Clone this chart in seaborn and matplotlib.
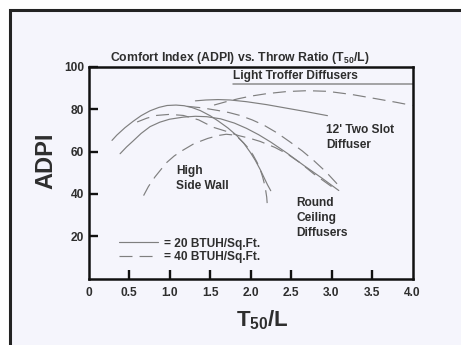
import matplotlib
matplotlib.use("Agg")
import matplotlib.pyplot as plt
from matplotlib.patches import Rectangle
from matplotlib.lines import Line2D
import seaborn as sns
import pandas as pd

# ADPI curves read as (T50/L, ADPI) points, per diffuser type and room load
troffer_20_x = [1.32, 1.45, 1.6, 1.75, 1.95, 2.2, 2.45, 2.7, 2.95]
troffer_20_y = [84.0, 84.4, 84.6, 84.4, 83.6, 82.2, 80.5, 78.8, 77.0]
troffer_40_x = [1.55, 1.7, 1.85, 2.0, 2.2, 2.45, 2.7, 2.95, 3.25, 3.55, 3.8, 4.0]
troffer_40_y = [82.0, 83.6, 85.0, 86.2, 87.4, 88.4, 88.8, 88.5, 87.0, 85.0, 83.3, 81.8]

sidewall_20_x = [0.29, 0.35, 0.45, 0.55, 0.65, 0.76, 0.87, 0.97, 1.08, 1.18, 1.28, 1.38,
                 1.5, 1.6, 1.72, 1.83, 1.92, 2.0, 2.06, 2.12, 2.17, 2.21, 2.25]
sidewall_20_y = [65.3, 67.8, 71.3, 74.3, 77.0, 79.3, 80.9, 81.8, 82.0, 81.7, 80.8, 79.4,
                 77.0, 74.5, 71.2, 67.6, 63.8, 59.5, 55.8, 51.5, 47.5, 44.3, 41.5]
sidewall_40_x = [0.68, 0.74, 0.82, 0.9, 0.97, 1.06, 1.15, 1.3, 1.47, 1.6, 1.7, 1.78,
                 1.85, 1.91, 1.97, 2.03, 2.08, 2.12, 2.15, 2.18, 2.2, 2.21]
sidewall_40_y = [39.2, 43.5, 48.0, 51.8, 55.0, 58.0, 60.3, 63.7, 66.2, 67.6, 68.2, 67.9,
                 66.5, 64.3, 61.8, 58.5, 55.0, 51.5, 48.0, 43.5, 38.5, 33.6]

ceiling_20_x = [0.39, 0.47, 0.55, 0.65, 0.76, 0.88, 1.0, 1.17, 1.32, 1.46, 1.63, 1.8,
                1.95, 2.1, 2.25, 2.45, 2.66, 2.88, 3.09]
ceiling_20_y = [59.0, 62.2, 65.0, 68.6, 71.8, 73.9, 75.3, 76.3, 76.7, 76.5, 75.5, 73.5,
                71.0, 68.0, 64.5, 59.3, 53.4, 47.5, 41.6]
ceiling_40_x = [0.6, 0.72, 0.84, 1.0, 1.17, 1.36, 1.54, 1.7, 1.85, 2.0, 2.12, 2.3,
                2.45, 2.62, 2.78, 2.93, 3.07]
ceiling_40_y = [74.0, 75.8, 77.1, 77.6, 77.1, 75.0, 71.5, 69.6, 67.6, 66.2, 64.8, 62.0,
                59.0, 54.5, 49.5, 45.4, 41.6]

slot_40_x = [1.22, 1.4, 1.59, 1.73, 1.87, 2.02, 2.17, 2.33, 2.49, 2.64, 2.78, 2.93, 3.07]
slot_40_y = [81.4, 80.7, 79.5, 78.5, 77.1, 75.0, 72.4, 68.8, 64.5, 60.3, 55.8, 50.5, 44.7]

x_ticks = [0.5, 1.0, 1.5, 2.0, 2.5, 3.0, 3.5]
x_tick_labels = ["0", "0.5", "1.0", "1.5", "2.0", "2.5", "3.0", "3.5", "4.0"]
y_ticks = [20, 40, 60, 80, 100]
legend_labels = ["= 20 BTUH/Sq.Ft.", "= 40 BTUH/Sq.Ft."]

curves = [
    ("troffer_20", "20", troffer_20_x, troffer_20_y),
    ("troffer_40", "40", troffer_40_x, troffer_40_y),
    ("sidewall_20", "20", sidewall_20_x, sidewall_20_y),
    ("sidewall_40", "40", sidewall_40_x, sidewall_40_y),
    ("ceiling_20", "20", ceiling_20_x, ceiling_20_y),
    ("ceiling_40", "40", ceiling_40_x, ceiling_40_y),
    ("slot_40", "40", slot_40_x, slot_40_y),
]
rows = []
for name, load, xs, ys in curves:
    for xv, yv in zip(xs, ys):
        rows.append({"curve": name, "load": load, "ratio": xv, "adpi": yv})
df = pd.DataFrame(rows)

BG = "#f5f5fc"
INK = "#2e2e2e"
CURVE = "#7f7f7f"
LW = 0.85
DASH = (11.0, 6.0)

sns.set_theme(style="ticks")
plt.rcParams["font.family"] = ["Liberation Sans", "DejaVu Sans"]
plt.rcParams["mathtext.fontset"] = "custom"
plt.rcParams["mathtext.rm"] = "Liberation Sans:bold"
plt.rcParams["mathtext.default"] = "rm"

fig = plt.figure(figsize=(4.61, 3.45), dpi=100, facecolor="white")
W, H = 461, 345

# outer panel with its dark border (runs off the right and bottom edges)
panel = Rectangle((9.5 / W, -0.2), 1.2, 1.2 - 9.5 / H, transform=fig.transFigure,
                  facecolor=BG, edgecolor="#232323", linewidth=2.2, zorder=-10)
fig.patches.append(panel)

ax = fig.add_axes([88.5 / W, 1 - 278.5 / H, 324 / W, 211.5 / H])
ax.set_zorder(5)
ax.set_facecolor(BG)

sns.lineplot(data=df, x="ratio", y="adpi", units="curve", estimator=None, sort=False,
             style="load", dashes={"20": "", "40": DASH}, color=CURVE, linewidth=LW,
             legend=False, ax=ax)

ax.set_xlim(0, 4.0)
ax.set_ylim(0, 100)
ax.set_xticks([0] + x_ticks + [4.0])
ax.set_xticklabels(x_tick_labels)
ax.set_yticks(y_ticks)
ax.tick_params(axis="both", which="major", direction="in", length=6.5, width=1.7,
               color="#111111", labelsize=8.6, labelcolor=INK,
               bottom=True, left=True, top=False, right=False)
ax.tick_params(axis="x", pad=6)
ax.tick_params(axis="y", pad=3)
for t in ax.get_xticklabels() + ax.get_yticklabels():
    t.set_fontweight("bold")
# the ticks at the ends of the x axis sit on the spines
xt = ax.xaxis.get_major_ticks()
for idx in (0, len(xt) - 1):
    xt[idx].tick1line.set_visible(False)
for s in ax.spines.values():
    s.set_visible(True)
    s.set_color("#111111")
    s.set_linewidth(1.8)
ax.set_xlabel("")
ax.set_ylabel("")

# diffuser labels
lab = dict(fontsize=8.6, fontweight="bold", color=INK, va="center", ha="left")
ax.text(1.79, 95.8, "Light Troffer Diffusers", **lab)
ax.axhline(91.9, xmin=1.79 / 4.0, xmax=1.0, color="#8c8c8c", linewidth=1.1)
ax.text(2.93, 70.0, "12' Two Slot", **lab)
ax.text(2.93, 63.3, "Diffuser", **lab)
ax.text(1.08, 50.6, "High", **lab)
ax.text(1.08, 43.5, "Side Wall", **lab)
ax.text(2.57, 35.9, "Round", **lab)
ax.text(2.57, 28.8, "Ceiling", **lab)
ax.text(2.57, 21.7, "Diffusers", **lab)

handles = [Line2D([], [], color=CURVE, linewidth=LW),
           Line2D([], [], color=CURVE, linewidth=LW, dashes=DASH)]
leg = ax.legend(handles, legend_labels, loc="upper left", bbox_to_anchor=(0.075, 0.222),
                frameon=False, handlelength=3.3, handletextpad=0.5, labelspacing=0.15,
                borderpad=0, prop={"weight": "bold", "size": 8.6})
for t in leg.get_texts():
    t.set_color(INK)

fig.text(240 / W, 1 - 58.5 / H, "Comfort Index (ADPI) vs. Throw Ratio (T$_{50}$/L)",
         ha="center", va="center", fontsize=8.8, fontweight="bold", color=INK)
fig.text(46 / W, 1 - 161 / H, "ADPI", rotation=90, ha="center", va="center",
         fontsize=17, fontweight="bold", color=INK)
fig.text(262 / W, 1 - 320 / H, "T$_{50}$/L", ha="center", va="center",
         fontsize=16, fontweight="bold", color=INK)

fig.savefig("out.png", dpi=100, facecolor="white")
